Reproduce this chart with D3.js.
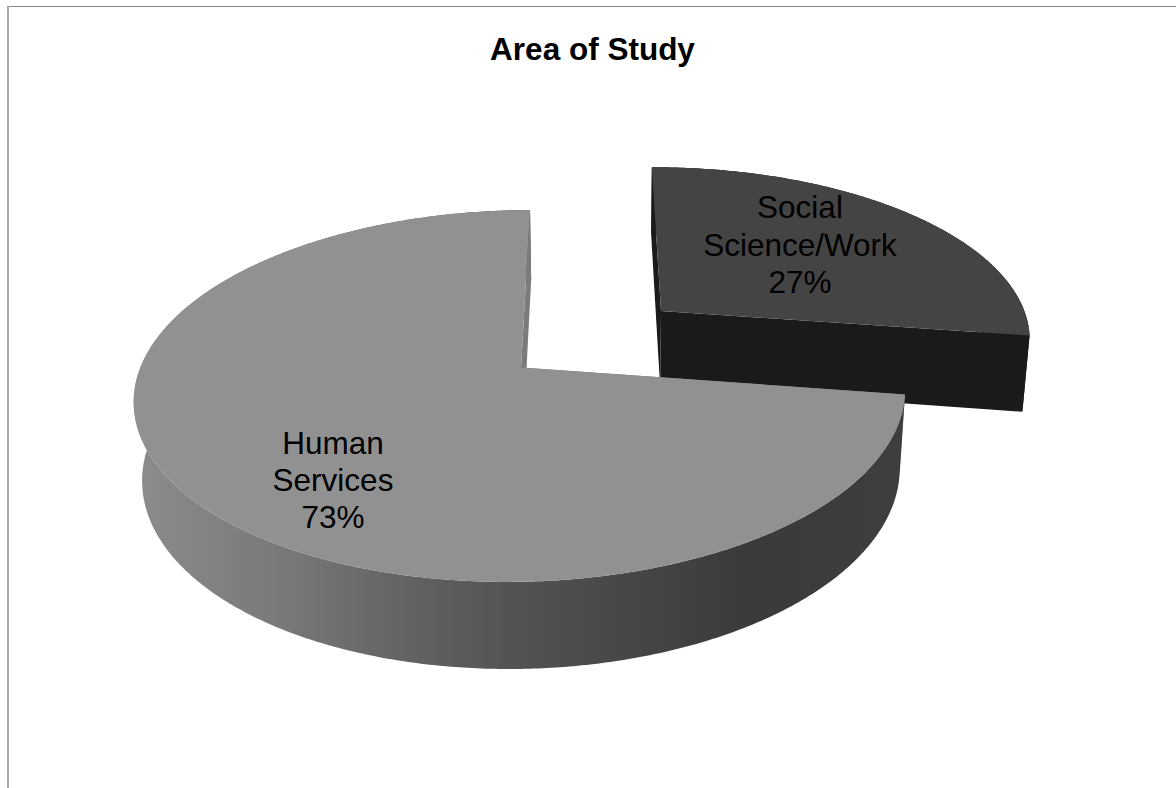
<!DOCTYPE html>
<html><head><meta charset="utf-8">
<script src="https://cdn.jsdelivr.net/npm/d3@7/dist/d3.min.js"></script>
<style>html,body{margin:0;padding:0;background:#fff}svg{display:block}</style>
</head><body><svg id="c" width="1176" height="788"></svg>
<script>
const title = "Area of Study";
const categories = ["Social Science/Work", "Human Services"];
const labelLines = [["Social", "Science/Work", "27%"], ["Human", "Services", "73%"]];
const values = [27.4, 72.6];
const explode = [0.497, 0];
const topColors = ["#444444", "#919191"];
const wallColors = ["#1a1a1a", "#7b7b7b"];
const wallStops = [[0,"#8c8c8c"],[0.2,"#787878"],[0.35,"#636363"],[0.5,"#525252"],[0.65,"#464646"],[0.8,"#3a3a3a"],[1,"#3e3e3e"]];

const svg = d3.select("#c");
const K = {cx:521, cy:367.5, R:381, H:181.6, a:10.4, b:1, k:0.153, m:0, p:1.5, q:79.1, n:0.0177};
function project(u, v, z){
  const w = 1 + K.k*v + K.m*u + K.n*z;
  return [K.cx + (K.R*u + K.a*v + K.p*z)/w, K.cy - (K.H*v + K.b*u - K.q*z)/w];
}
const arcs = d3.pie().sort(null).value(d=>d)(values);
const lineGen = d3.line();
function pt(a, ox, oy, z, r=1){ return project(ox + r*Math.sin(a), oy + r*Math.cos(a), z); }
function angles(a0, a1){ const n = Math.max(2, Math.ceil((a1-a0)/0.01)); return d3.range(n+1).map(i=>a0+(a1-a0)*i/n); }

const grad = svg.append("defs").append("linearGradient").attr("id","wall")
  .attr("gradientUnits","userSpaceOnUse").attr("x1",133).attr("x2",905).attr("y1",0).attr("y2",0);
wallStops.forEach(s=>grad.append("stop").attr("offset",s[0]).attr("stop-color",s[1]));

svg.append("line").attr("x1",7).attr("x2",1176).attr("y1",6.5).attr("y2",6.5).attr("stroke","#8a8a8a");
svg.append("line").attr("x1",8).attr("x2",8).attr("y1",6).attr("y2",788).attr("stroke","#aaaaaa").attr("stroke-width",2);

[0,1].forEach(i=>{
  const s = arcs[i], mid=(s.startAngle+s.endAngle)/2;
  const ox = explode[i]*Math.sin(mid), oy = explode[i]*Math.cos(mid);
  const as = angles(s.startAngle, s.endAngle);
  const g = svg.append("g");
  const A0 = project(ox,oy,0), A1 = project(ox,oy,1);
  const radial = a => g.append("path").attr("d", lineGen([A0, pt(a,ox,oy,0), pt(a,ox,oy,1), A1])+"Z").attr("fill",wallColors[i]);
  radial(s.startAngle);
  const outer = as.map(a=>pt(a,ox,oy,0)).concat(as.slice().reverse().map(a=>pt(a,ox,oy,1)));
  g.append("path").attr("d", lineGen(outer)+"Z").attr("fill", i===1?"url(#wall)":wallColors[i]);
  radial(s.endAngle);
  g.append("path").attr("d", lineGen([A0].concat(as.map(a=>pt(a,ox,oy,0))))+"Z").attr("fill",topColors[i]);
});

svg.append("text").attr("x",592.5).attr("y",60).attr("text-anchor","middle")
  .attr("font-family","'Liberation Sans',Arial,sans-serif").attr("font-weight","bold").attr("font-size",31.5).attr("fill","#000").text(title);

const labelPos = [[800,218,37.5],[333,453.5,37]];
labelLines.forEach((lines,i)=>{
  lines.forEach((t,j)=>{
    svg.append("text").attr("x",labelPos[i][0]).attr("y",labelPos[i][1]+j*labelPos[i][2]).attr("text-anchor","middle")
      .attr("font-family","'Liberation Sans',Arial,sans-serif").attr("font-size",31.5).attr("fill","#000").text(t);
  });
});
</script></body></html>
